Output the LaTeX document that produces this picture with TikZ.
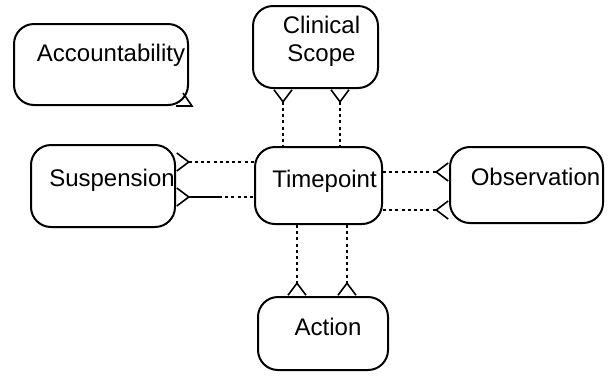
\documentclass[tikz,border=0pt]{standalone}
\usepackage{fontspec}
\setmainfont{Liberation Sans}
\usetikzlibrary{arrows.meta, calc}
\newcommand{\nudge}[3]{\hspace*{#1}\raisebox{#2}[\height][\depth]{#3}\hspace*{-#1}}

\begin{document}
\begin{tikzpicture}[
    x=0.5pt, y=-0.5pt,
    entity/.style={rectangle, rounded corners=10pt, draw=black, line width=1pt,
                   fill=white, font=\fontsize{12}{14}\selectfont, align=center,
                   inner sep=0pt},
    rel/.style={line width=1.4pt, dash pattern=on 1.5pt off 1.6pt},
    solidrel/.style={line width=1pt},
    many/.tip={Straight Barb[reversed, length=6pt, width=9pt, line width=0.8pt]},
  ]
    \useasboundingbox (0,0) rectangle (609,376);

    \node[entity, minimum width=87pt, minimum height=40.5pt] (acc) at (101,64.5) {\nudge{5pt}{4.75pt}{Accountability}};
    \node[entity, minimum width=62.5pt, minimum height=41pt] (scope) at (315.5,47) {\nudge{3pt}{2.5pt}{\begin{tabular}{@{}c@{}}Clinical\\Scope\end{tabular}}};
    \node[entity, minimum width=63.5pt, minimum height=38.5pt] (time) at (318.5,185.5) {\nudge{3pt}{2.25pt}{Timepoint}};
    \node[entity, minimum width=72pt, minimum height=41pt] (susp) at (103,186) {\nudge{4.5pt}{3pt}{Suspension}};
    \node[entity, minimum width=76.5pt, minimum height=38pt] (obs) at (526.5,185) {\nudge{4.5pt}{4pt}{Observation}};
    \node[entity, minimum width=65pt, minimum height=36.5pt] (act) at (323,333.5) {\nudge{2.5pt}{3.25pt}{Action}};

    % scope -- timepoint
    \draw[rel, {many}-] ([xshift=-16.25pt]scope.south) -- ([xshift=-16.25pt]scope.south |- time.north);
    \draw[rel, {many}-] ([xshift=12.25pt]scope.south) -- ([xshift=12.25pt]scope.south |- time.north);

    % suspension -- timepoint
    \draw[rel, {many}-] ([yshift=12pt]susp.east) -- ([yshift=12pt]susp.east -| time.west);
    \coordinate (sbreak) at ([yshift=-5.5pt,xshift=21.5pt]susp.east);
    \draw[solidrel, {many}-] ([yshift=-5.5pt]susp.east) -- (sbreak);
    \draw[rel] (sbreak) -- (sbreak -| time.west);

    % timepoint -- observation
    \draw[rel, -{many}] ([yshift=6.5pt]obs.west -| time.east) -- ([yshift=6.5pt]obs.west);
    \draw[rel, -{many}] ([yshift=-12.5pt]obs.west -| time.east) -- ([yshift=-12.5pt]obs.west);

    % timepoint -- action
    \draw[rel, -{many}] ([xshift=-13pt]act.north |- time.south) -- ([xshift=-13pt]act.north);
    \draw[rel, -{many}] ([xshift=12pt]act.north |- time.south) -- ([xshift=12pt]act.north);

    % stray tip on accountability
    \draw[line width=0.8pt] (176,106) -- (192,106) -- (183,93);
  \end{tikzpicture}
\end{document}
